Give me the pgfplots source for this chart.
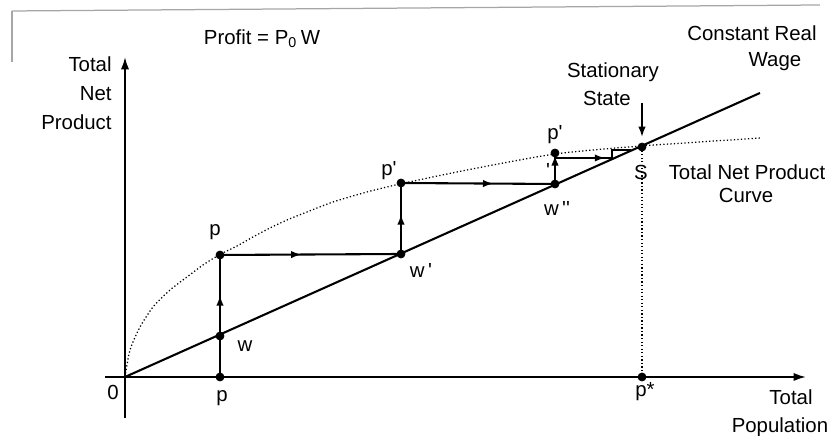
\documentclass[border=0pt]{standalone}
\usepackage{pgfplots}
\pgfplotsset{compat=1.18}
\usepackage{fontspec}
\setmainfont{Liberation Sans}
\usetikzlibrary{arrows.meta,decorations.markings}
\newcommand{\q}{\textquotesingle}
\begin{document}
\begin{tikzpicture}[font=\fontsize{9.8}{12}\selectfont]
\tikzset{
  midarrow/.style={postaction={decorate},decoration={markings,
    mark=at position #1 with {\arrow{Latex[length=5pt,width=3.6pt]}}}},
  stepline/.style={black,line width=1pt},
}
\begin{axis}[
  width=14cm,height=7.363cm,scale only axis,
  xmin=-125,xmax=704,ymin=-59,ymax=377,
  hide axis,clip=false,
]
% scan frame
\addplot[gray!70,line width=0.6pt] coordinates {(-113,366) (695,372)};
\addplot[gray!70,line width=0.6pt] coordinates {(-113,366) (-113,315)};
% axes
\addplot[black,line width=0.9pt,-{Latex[length=6pt,width=4pt]}] coordinates {(0,-41) (0,320)};
\addplot[black,line width=0.9pt,-{Latex[length=6pt,width=4pt]}] coordinates {(-20,0) (681,0)};
% total net product curve
\addplot[black,line width=0.6pt,dash pattern=on 0.6pt off 1.1pt,smooth,tension=0.4] coordinates {
 (0,0) (5,27) (15,50) (28,70) (45,87) (62,100) (78,112) (94,122) (112,131) (128,140)
 (145,149) (162,157) (182,165) (208,175) (242,185) (275,193) (342,207) (430,223)
 (516,231) (636,239)
};
% constant real wage line
\addplot[black,line width=1pt] coordinates {(0,0) (635,284)};
% stationary state projection
\addplot[black,line width=0.6pt,dash pattern=on 0.6pt off 1.1pt] coordinates {(517,230) (517,0)};
\addplot[black,line width=0.8pt,-{Latex[length=5pt,width=3.6pt]}] coordinates {(517,274) (517,240)};
% staircase
\addplot[stepline,midarrow=0.67] coordinates {(95,0) (95,122)};
\addplot[stepline,midarrow=0.45] coordinates {(95,122) (276,123)};
\addplot[stepline,midarrow=0.56] coordinates {(276,123) (276,194)};
\addplot[stepline,midarrow=0.6] coordinates {(276,194) (430,193)};
\addplot[stepline,midarrow=0.93] coordinates {(430,193) (430,224)};
\addplot[stepline,midarrow=0.88] coordinates {(430,219) (487,219)};
\addplot[black,line width=0.7pt] coordinates {(487,219) (487,227) (506,227)};
% points
\addplot[only marks,mark=*,mark size=1.9pt,black] coordinates {
 (95,0) (95,41) (95,122) (276,123) (276,194) (430,193) (430,224) (517,230) (517,0)
};
% labels
\node at (axis cs:137,338) {Profit = P\textsubscript{0}\,W};
\node[anchor=east,align=right,inner sep=0pt] at (axis cs:-13,284) {Total\\[2pt]Net\\[2pt]Product};
\node at (axis cs:627,344) {Constant Real};
\node at (axis cs:650,315) {Wage};
\node at (axis cs:488,305) {Stationary};
\node at (axis cs:482,279) {State};
\node at (axis cs:622,205) {Total Net Product};
\node at (axis cs:621,182) {Curve};
\node at (axis cs:516,205) {S};
\node at (axis cs:430,242) {p\q};
\node at (axis cs:423,207) {\q};
\node at (axis cs:432,169) {w\,\q\q};
\node at (axis cs:264,206) {p\q};
\node at (axis cs:90,145) {p};
\node at (axis cs:120,31) {w};
\node at (axis cs:296,107) {w\,\q};
\node at (axis cs:-12,-15) {0};
\node at (axis cs:97,-21) {p};
\node at (axis cs:520,-15) {p*};
\node at (axis cs:666,-20) {Total};
\node at (axis cs:655,-50) {Population};
\coordinate (bl) at (rel axis cs:0,0);
\coordinate (tr) at (rel axis cs:1,1);
\end{axis}
\pgfresetboundingbox
\useasboundingbox (bl) rectangle (tr);
\end{tikzpicture}
\end{document}
